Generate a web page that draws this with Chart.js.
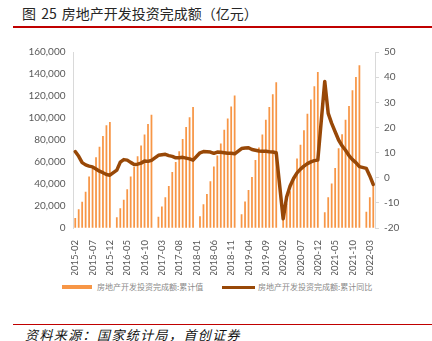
<!DOCTYPE html>
<html>
<head>
<meta charset="utf-8">
<script src="https://cdn.jsdelivr.net/npm/chart.js@4"></script>
<style>
  body { margin: 0; background: #fff; }
  #page { position: relative; width: 432px; height: 341px; overflow: hidden; font-family: "Noto Sans CJK SC", sans-serif; }
  #title { position: absolute; left: 22px; top: 6px; font-size: 14px; line-height: 14px; color: #262626; white-space: nowrap; word-spacing: 2px; }
  .rule { position: absolute; left: 13px; width: 419px; height: 1.5px; background: #C00000; }
  #chart { position: absolute; left: 0; top: 0; }
  .leg { position: absolute; top: 282px; font-size: 8px; line-height: 10px; color: #8a8a8a; white-space: nowrap; }
  .leg i { position: absolute; left: 0; }
  #source { position: absolute; left: 25px; top: 327px; font-size: 13px; line-height: 15px; font-style: italic; color: #111; white-space: nowrap; letter-spacing: 1.4px; }
</style>
</head>
<body>
<div id="page">
  <div id="title">图 25 房地产开发投资完成额（亿元）</div>
  <div class="rule" style="top:26px"></div>
  <canvas id="chart" width="432" height="275"></canvas>
  <div class="leg" style="left:62px"><i style="top:3px;width:30px;height:4px;background:#F79646"></i><span style="margin-left:35px">房地产开发投资完成额:累计值</span></div>
  <div class="leg" style="left:222px"><i style="top:4px;width:33px;height:2.5px;background:#984807"></i><span style="margin-left:36px">房地产开发投资完成额:累计同比</span></div>
  <div class="rule" style="top:323.5px"></div>
  <div id="source">资料来源：国家统计局，首创证券</div>
</div>
<script>
// monthly categories 2015-02 .. 2022-04 (January has no separate release)
const months = [];
for (let y = 2015; y <= 2022; y++) {
    for (let m = 1; m <= 12; m++) {
        if (y === 2015 && m < 2) continue;
        if (y === 2022 && m > 4) break;
        months.push(y + '-' + String(m).padStart(2, '0'));
    }
}

// 房地产开发投资完成额:累计值 (亿元)
const investValue = [
    8786, 16650, 23668, 32632, 46477, 54740, 64057, 73674, 83432, 93035, 95979,
    null, 9415, 17677, 25366, 34844, 46631, 55368, 64839, 74598, 84735, 94331, 102581,
    null, 9854, 19292, 27732, 37995, 50610, 59761, 69494, 80644, 91533, 100387, 109799,
    null, 10292, 21291, 30592, 42103, 55531, 65645, 76519, 88948, 99325, 110083, 120264,
    null, 12090, 23803, 34217, 46075, 61609, 72843, 84589, 98008, 109603, 121265, 132194,
    null, 10115, 21963, 33103, 45920, 62780, 75325, 88454, 103484, 116556, 128492, 141443,
    null, 13986, 27576, 40240, 54318, 72179, 84895, 98060, 110522, 124934, 137086, 147602,
    null, 14499, 27765, 39154
];

// 房地产开发投资完成额:累计同比 (%)
const investYoY = [
    10.4, 8.5, 6.0, 5.1, 4.6, 4.3, 3.5, 2.6, 2.0, 1.3, 1.0,
    null, 3.0, 6.2, 7.2, 7.0, 6.1, 5.3, 5.4, 5.8, 6.6, 6.5, 6.9,
    null, 8.9, 9.1, 9.3, 8.8, 8.5, 7.9, 7.9, 8.1, 7.8, 7.5, 7.0,
    null, 9.9, 10.4, 10.3, 10.2, 9.7, 10.2, 10.1, 9.9, 9.7, 9.7, 9.5,
    null, 11.6, 11.8, 11.9, 11.2, 10.9, 10.6, 10.5, 10.5, 10.3, 10.2, 9.9,
    null, -16.3, -7.7, -3.3, -0.3, 1.9, 3.4, 4.6, 5.6, 6.3, 6.8, 7.0,
    null, 38.3, 25.6, 21.6, 18.3, 15.0, 12.7, 10.9, 8.8, 7.2, 6.0, 4.4,
    null, 3.7, 0.7, -2.7
];

const tickFont = { family: 'Lato', size: 10 };
const axisGray = '#d9d9d9';

new Chart(document.getElementById('chart'), {
    data: {
        labels: months,
        datasets: [
            {
                type: 'line',
                label: '房地产开发投资完成额:累计同比',
                data: investYoY,
                yAxisID: 'y1',
                borderColor: '#984807',
                borderWidth: 3.5,
                pointRadius: 0,
                spanGaps: true,
                tension: 0,
                borderJoinStyle: 'round',
                borderCapStyle: 'round',
                order: 0
            },
            {
                type: 'bar',
                label: '房地产开发投资完成额:累计值',
                data: investValue,
                yAxisID: 'y',
                backgroundColor: '#F79646',
                barThickness: 1.1,
                order: 1
            }
        ]
    },
    options: {
        responsive: false,
        animation: false,
        layout: { padding: { top: 52, left: 0, right: 0, bottom: 0 } },
        plugins: { legend: { display: false }, tooltip: { enabled: false } },
        scales: {
            x: {
                offset: true,
                grid: { display: false },
                border: { display: false },
                ticks: {
                    autoSkip: false,
                    minRotation: 90,
                    maxRotation: 90,
                    padding: 4,
                    color: '#595959',
                    font: { family: 'Lato', size: 9.5 },
                    callback: function (v, i) { return i % 5 === 0 ? this.getLabelForValue(v) : ''; }
                },
                afterFit: s => { s.height = 47; }
            },
            y: {
                position: 'left',
                min: 0,
                max: 160000,
                ticks: { stepSize: 20000, padding: 8, color: '#595959', font: tickFont },
                grid: { drawOnChartArea: false, drawTicks: false },
                border: { display: true, color: axisGray },
                afterFit: s => { s.width = 73.5; }
            },
            y1: {
                position: 'right',
                min: -20,
                max: 50,
                ticks: { stepSize: 10, padding: 5, color: '#595959', font: tickFont },
                grid: { drawOnChartArea: false, drawTicks: true, tickLength: 4, color: axisGray },
                border: { display: true, color: axisGray },
                afterFit: s => { s.width = 57; }
            }
        }
    }
});
</script>
</body>
</html>
